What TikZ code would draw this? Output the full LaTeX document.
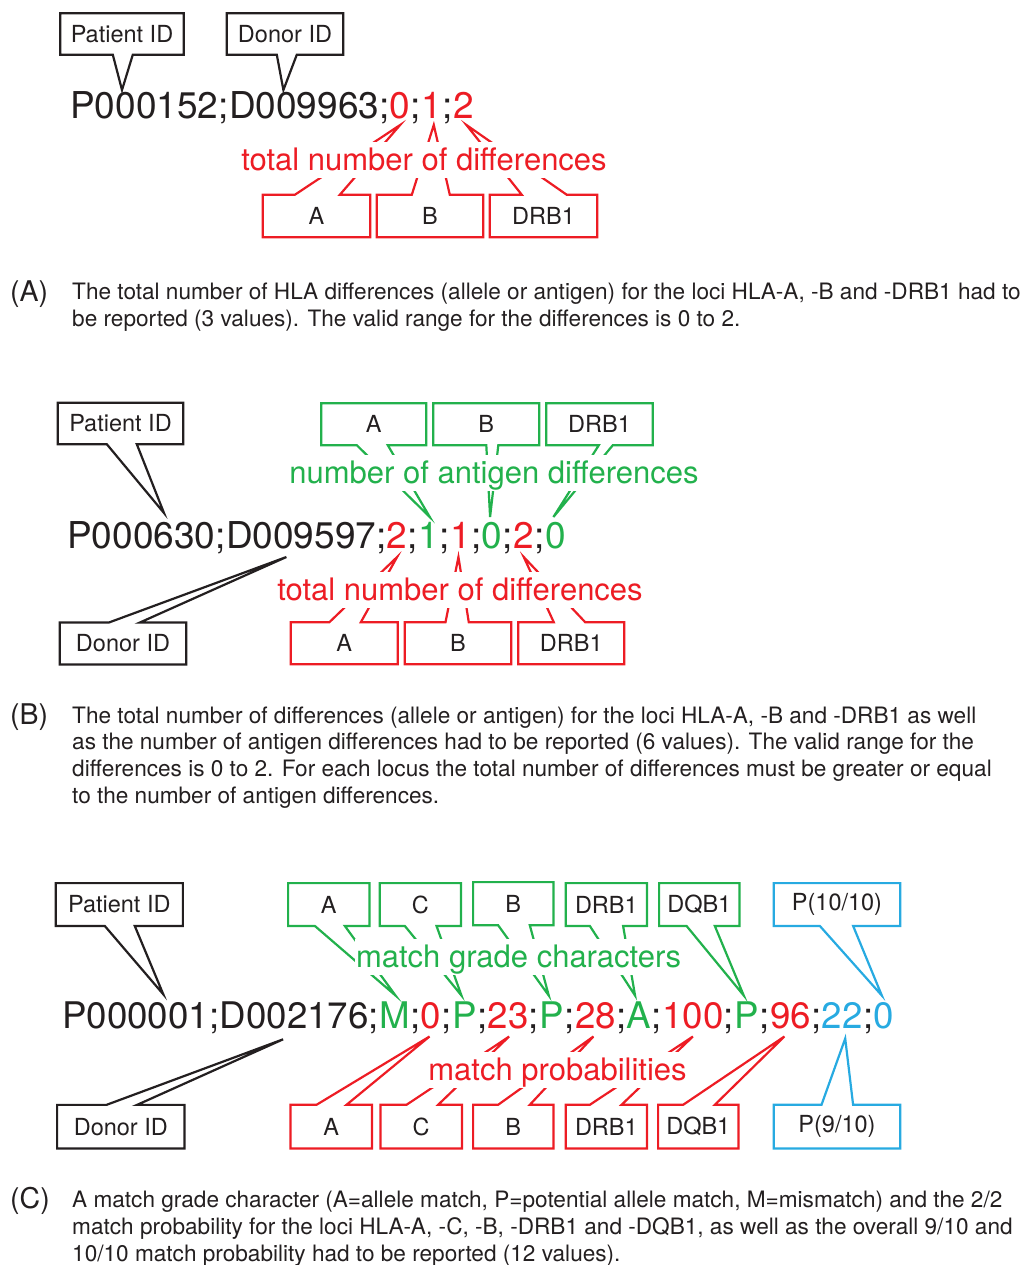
\documentclass[tikz,border=0pt]{standalone}
\usepackage{fontspec}
\setmainfont{TeX Gyre Heros}
\usetikzlibrary{calc}
\definecolor{cred}{RGB}{237,28,36}
\definecolor{cgreen}{RGB}{34,177,76}
\definecolor{cblue}{RGB}{39,170,225}
\definecolor{cblk}{RGB}{35,31,32}
\newcommand\mainsz{\fontsize{37}{44}\selectfont}
\newcommand\mainszc{\fontsize{36.7}{44}\selectfont}
\newcommand\lblsz{\fontsize{31}{37}\selectfont}
\newcommand\boxsz{\fontsize{23.5}{28}\selectfont}
\newcommand\capsz{\fontsize{22.6}{27}\selectfont}
\newcommand\caplsz{\fontsize{28.5}{34}\selectfont}
% callout with pointer on top edge: color, box, off1, off2, tip
\newcommand\coT[5]{\draw[co,#1] ($(#2.north west)+(#3,0)$) -- #5 -- ($(#2.north west)+(#4,0)$) -- (#2.north east) -- (#2.south east) -- (#2.south west) -- (#2.north west) -- cycle;}
% callout with pointer on bottom edge
\newcommand\coB[5]{\draw[co,#1] ($(#2.south west)+(#3,0)$) -- #5 -- ($(#2.south west)+(#4,0)$) -- (#2.south east) -- (#2.north east) -- (#2.north west) -- (#2.south west) -- cycle;}
\tikzset{
  tok/.style={inner sep=0pt, anchor=base west, font=\mainsz, text=cblk},
  tokc/.style={tok, font=\mainszc},
  lbl/.style={fill=white, inner xsep=1pt, inner ysep=2.5pt, text height=26pt, text depth=5pt, anchor=base, font=\lblsz},
  bx/.style={inner sep=0pt, font=\boxsz, text=cblk},
  co/.style={line width=2.2pt, line join=miter},
  captxt/.style={inner sep=0pt, anchor=base west, font=\capsz, text=cblk},
  caplab/.style={inner sep=0pt, anchor=base west, font=\caplsz, text=cblk},
}
\begin{document}
\begin{tikzpicture}[x=1pt,y=-1pt]
\useasboundingbox (0,0) rectangle (1027,1265);

%% ================= Panel A =================
\node[tok] (pidA) at (70,119) {P000152;};
\node[tok] (didA) at (pidA.base east) {D009963;};
\node[tok,text=cred] (a1) at (didA.base east) {0};
\node[tok] (sa1) at (a1.base east) {;};
\node[tok,text=cred] (a2) at (sa1.base east) {1};
\node[tok] (sa2) at (a2.base east) {;};
\node[tok,text=cred] (a3) at (sa2.base east) {2};

\node[bx, minimum width=123pt, minimum height=41pt] (pA) at (122,34) {Patient ID};
\node[bx, minimum width=116pt, minimum height=41pt] (dA) at (285,34) {Donor ID};
\node[bx, minimum width=107pt, minimum height=42pt] (rA1) at (316.5,216) {A};
\node[bx, minimum width=106pt, minimum height=42pt] (rA2) at (430,216) {B};
\node[bx, minimum width=107pt, minimum height=42pt] (rA3) at (543.5,216) {DRB1};

\coB{cblk}{pA}{52.5}{72.5}{($(pidA.base west)+(52,-29)$)}
\coB{cblk}{dA}{50}{70}{($(didA.base west)+(54.6,-29)$)}
\coT{cred}{rA1}{32}{77}{($(a1.base)+(0,6)$)}
\coT{cred}{rA2}{35}{73}{($(a2.base)+(2,6)$)}
\coT{cred}{rA3}{32}{77}{($(a3.base)+(3,6)$)}

\node[lbl,text=cred] (lA) at (424,171) {total number of differences};

\node[caplab] (capA) at (10,301) {(A)};
\node[captxt] (capA1) at (72,299) {The total number of HLA differences (allele or antigen) for the loci HLA-A, -B and -DRB1 had to};
\node[captxt] (capA2) at (72,326) {be reported (3 values). The valid range for the differences is 0 to 2.};

%% ================= Panel B =================
\node[tok] (pidB) at (67,548.5) {P000630;};
\node[tok] (didB) at (pidB.base east) {D009597;};
\node[tok,text=cred] (b1) at (didB.base east) {2};
\node[tok] (sb1) at (b1.base east) {;};
\node[tok,text=cgreen] (b2) at (sb1.base east) {1};
\node[tok] (sb2) at (b2.base east) {;};
\node[tok,text=cred] (b3) at (sb2.base east) {1};
\node[tok] (sb3) at (b3.base east) {;};
\node[tok,text=cgreen] (b4) at (sb3.base east) {0};
\node[tok] (sb4) at (b4.base east) {;};
\node[tok,text=cred] (b5) at (sb4.base east) {2};
\node[tok] (sb5) at (b5.base east) {;};
\node[tok,text=cgreen] (b6) at (sb5.base east) {0};

\node[bx, minimum width=125pt, minimum height=41pt] (pB) at (120.5,423.5) {Patient ID};
\node[bx, minimum width=126pt, minimum height=41.5pt] (dB) at (123,643.5) {Donor ID};
\node[bx, minimum width=104.5pt, minimum height=41.5pt] (gB1) at (373.75,424.25) {A};
\node[bx, minimum width=105.5pt, minimum height=41.5pt] (gB2) at (486.25,424.25) {B};
\node[bx, minimum width=106pt, minimum height=41.5pt] (gB3) at (599.5,424.25) {DRB1};
\node[bx, minimum width=106.5pt, minimum height=41.5pt] (rB1) at (344.25,643.25) {A};
\node[bx, minimum width=106pt, minimum height=41.5pt] (rB2) at (458,643.25) {B};
\node[bx, minimum width=105.5pt, minimum height=41.5pt] (rB3) at (571.25,643.25) {DRB1};

\coB{cblk}{pB}{49}{79}{($(pidB.base west)+(97,-35.5)$)}
\coT{cblk}{dB}{49}{80}{($(didB.base west)+(60.6,8.5)$)}
\coB{cgreen}{gB1}{35.5}{66.5}{($(b2.base)+(1,-31.5)$)}
\coB{cgreen}{gB2}{53}{65}{($(b4.base)+(-2,-31.5)$)}
\coB{cgreen}{gB3}{52.5}{66.5}{($(b6.base)+(-2,-31.5)$)}
\coT{cred}{rB1}{38.5}{70}{($(b1.base)+(0,8.5)$)}
\coT{cred}{rB2}{40.7}{64}{($(b3.base)+(-2,8.5)$)}
\coT{cred}{rB3}{35.5}{67}{($(b5.base)+(0,8.5)$)}

\node[lbl,text=cgreen] (lBg) at (494,483) {number of antigen differences};
\node[lbl,text=cred] (lBr) at (460,600) {total number of differences};

\node[caplab] (capB) at (10,724) {(B)};
\node[captxt] (capB1) at (72,723) {The total number of differences (allele or antigen) for the loci HLA-A, -B and -DRB1 as well};
\node[captxt] (capB2) at (72,749.7) {as the number of antigen differences had to be reported (6 values). The valid range for the};
\node[captxt] (capB3) at (72,776.4) {differences is 0 to 2. For each locus the total number of differences must be greater or equal};
\node[captxt] (capB4) at (72,803.1) {to the number of antigen differences.};

%% ================= Panel C =================
\node[tokc] (pidC) at (62,1028.5) {P000001;};
\node[tokc] (didC) at (pidC.base east) {D002176;};
\node[tokc,text=cgreen] (c1) at (didC.base east) {M};
\node[tokc] (sc1) at (c1.base east) {;};
\node[tokc,text=cred] (c2) at (sc1.base east) {0};
\node[tokc] (sc2) at (c2.base east) {;};
\node[tokc,text=cgreen] (c3) at (sc2.base east) {P};
\node[tokc] (sc3) at (c3.base east) {;};
\node[tokc,text=cred] (c4) at (sc3.base east) {23};
\node[tokc] (sc4) at (c4.base east) {;};
\node[tokc,text=cgreen] (c5) at (sc4.base east) {P};
\node[tokc] (sc5) at (c5.base east) {;};
\node[tokc,text=cred] (c6) at (sc5.base east) {28};
\node[tokc] (sc6) at (c6.base east) {;};
\node[tokc,text=cgreen] (c7) at (sc6.base east) {A};
\node[tokc] (sc7) at (c7.base east) {;};
\node[tokc,text=cred] (c8) at (sc7.base east) {100};
\node[tokc] (sc8) at (c8.base east) {;};
\node[tokc,text=cgreen] (c9) at (sc8.base east) {P};
\node[tokc] (sc9) at (c9.base east) {;};
\node[tokc,text=cred] (c10) at (sc9.base east) {96};
\node[tokc] (sc10) at (c10.base east) {;};
\node[tokc,text=cblue] (c11) at (sc10.base east) {22};
\node[tokc] (sc11) at (c11.base east) {;};
\node[tokc,text=cblue] (c12) at (sc11.base east) {0};

\node[bx, minimum width=126.7pt, minimum height=42.4pt] (pC) at (119.3,904.5) {Patient ID};
\node[bx, minimum width=127pt, minimum height=43.3pt] (dC) at (120.8,1126.7) {Donor ID};
\node[bx, minimum width=81pt, minimum height=42.4pt] (gC1) at (328.8,904.5) {A};
\node[bx, minimum width=80.7pt, minimum height=42.4pt] (gC2) at (420.35,904.5) {C};
\node[bx, minimum width=80pt, minimum height=42.7pt] (gC3) at (513.3,903.65) {B};
\node[bx, minimum width=80.7pt, minimum height=42.4pt] (gC4) at (606.35,904.5) {DRB1};
\node[bx, minimum width=80pt, minimum height=42.4pt] (gC5) at (699.3,904.5) {DQB1};
\node[bx, minimum width=126pt, minimum height=42.4pt] (bC1) at (837,904.5) {P(10/10)};
\node[bx, minimum width=81pt, minimum height=43.3pt] (rC1) at (331.2,1126.65) {A};
\node[bx, minimum width=81pt, minimum height=43.3pt] (rC2) at (421.2,1126.65) {C};
\node[bx, minimum width=80pt, minimum height=43.3pt] (rC3) at (513.3,1126.65) {B};
\node[bx, minimum width=80.7pt, minimum height=43.3pt] (rC4) at (606.35,1126.65) {DRB1};
\node[bx, minimum width=80pt, minimum height=43.3pt] (rC5) at (698.3,1126.65) {DQB1};
\node[bx, minimum width=126pt, minimum height=43.3pt] (bC2) at (837,1126.65) {P(9/10)};

\coB{cblk}{pC}{49}{79}{($(pidC.base west)+(101.3,-34.2)$)}
\coT{cblk}{dC}{49.4}{80}{($(didC.base west)+(63.6,10.8)$)}
\coB{cgreen}{gC1}{26.7}{56.7}{($(c1.base)+(1,-33)$)}
\coB{cgreen}{gC2}{25}{56.7}{($(c3.base)+(-3,-33)$)}
\coB{cgreen}{gC3}{25}{56.7}{($(c5.base)+(-3,-33)$)}
\coB{cgreen}{gC4}{24}{57.3}{($(c7.base)+(-4,-33)$)}
\coB{cgreen}{gC5}{27.4}{55.7}{($(c9.base)+(-3,-33)$)}
\coB{cblue}{bC1}{46}{79.3}{($(c12.base)+(-2,-33)$)}
\coT{cred}{rC1}{26}{56}{($(c2.base)+(-1.5,8)$)}
\coT{cred}{rC2}{26}{57.6}{($(c4.base)+(1,8)$)}
\coT{cred}{rC3}{25}{56.7}{($(c6.base)+(-2,8)$)}
\coT{cred}{rC4}{24}{55.7}{($(c8.base)+(0,8)$)}
\coT{cred}{rC5}{25}{56.7}{($(c10.base)+(-6,8)$)}
\coT{cblue}{bC2}{47.7}{79.3}{($(c11.base)+(3,10)$)}

\node[lbl,text=cgreen] (lCg) at (518.5,967) {match grade characters};
\node[lbl,text=cred] (lCr) at (557.5,1080) {match probabilities};

\node[caplab] (capC) at (10,1208) {(C)};
\node[captxt] (capC1) at (72,1207) {A match grade character (A=allele match, P=potential allele match, M=mismatch) and the 2/2};
\node[captxt] (capC2) at (72,1234) {match probability for the loci HLA-A, -C, -B, -DRB1 and -DQB1, as well as the overall 9/10 and};
\node[captxt] (capC3) at (72,1261) {10/10 match probability had to be reported (12 values).};
\end{tikzpicture}
\end{document}
